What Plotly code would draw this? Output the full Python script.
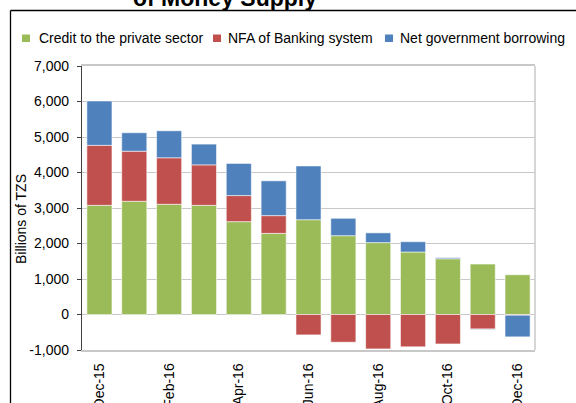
import plotly.graph_objects as go

# ---------------- data ----------------
months = ["Dec-15", "Jan-16", "Feb-16", "Mar-16", "Apr-16", "May-16", "Jun-16",
          "Jul-16", "Aug-16", "Sep-16", "Oct-16", "Nov-16", "Dec-16"]
credit_private = [3075, 3190, 3105, 3075, 2615, 2285, 2670, 2220, 2025, 1760, 1570, 1420, 1120]
nfa_banking = [1690, 1410, 1310, 1140, 735, 500, -575, -780, -970, -910, -830, -410, -20]
net_gov_borrowing = [1250, 520, 760, 585, 905, 980, 1515, 490, 275, 290, 30, -15, -610]

series_names = ["Credit to the private sector", "NFA of Banking system", "Net government borrowing"]
x_tick_labels = months[::2]
y_tick_values = [-1000, 0, 1000, 2000, 3000, 4000, 5000, 6000, 7000]
y_tick_labels = ["-1,000", "0", "1,000", "2,000", "3,000", "4,000", "5,000", "6,000", "7,000"]
boundary_ticks = [1.5, 3.5, 5.5, 7.5, 9.5, 11.5]

# ---------------- layout constants (pixels) ----------------
W, H = 576, 403
L, R, T, B = 82, 41, 66, 53
PW, PH = W - L - R, H - T - B
FONT = "Liberation Sans, Arial, sans-serif"
colors = ["#9BBB59", "#C0504D", "#4F81BD"]


def px_x(px):
    return (px - L) / PW


def px_y(py):
    return (H - B - py) / PH


fig = go.Figure()
for name, vals, col in zip(series_names, [credit_private, nfa_banking, net_gov_borrowing], colors):
    fig.add_trace(go.Bar(
        x=months, y=vals, name=name, marker_color=col,
        marker_line=dict(color="rgba(255,255,255,0.55)", width=1),
        showlegend=False,
    ))

shapes = []
annotations = []

# custom legend
legend_items = [(22, 36.7), (213, 226), (385, 398)]
for (sq_x, tx_x), name, col in zip(legend_items, series_names, colors):
    shapes.append(dict(type="rect", xref="paper", yref="paper",
                       x0=px_x(sq_x), x1=px_x(sq_x + 8), y0=px_y(42), y1=px_y(34.5),
                       fillcolor=col, line=dict(width=0)))
    annotations.append(dict(text=name, xref="paper", yref="paper", x=px_x(tx_x), y=px_y(38.5),
                            xanchor="left", yanchor="middle", showarrow=False,
                            font=dict(family=FONT, size=14, color="#000000")))

# cut-off title
annotations.append(dict(text="<b>of Money Supply</b>", xref="paper", yref="paper",
                        x=px_x(225), y=px_y(13.5), xanchor="center", yanchor="bottom",
                        showarrow=False, font=dict(family=FONT, size=23, color="#000000")))

# y-axis title
annotations.append(dict(text="Billions of TZS", xref="paper", yref="paper",
                        x=px_x(21), y=px_y(219), xanchor="center", yanchor="middle",
                        textangle=-90, showarrow=False,
                        font=dict(family=FONT, size=14, color="#000000")))

# outer chart frame (top and left)
shapes.append(dict(type="line", xref="paper", yref="paper", x0=px_x(10.5), x1=px_x(590),
                   y0=px_y(10.5), y1=px_y(10.5), line=dict(color="#000000", width=1.3)))
shapes.append(dict(type="line", xref="paper", yref="paper", x0=px_x(10.5), x1=px_x(10.5),
                   y0=px_y(10.5), y1=px_y(420), line=dict(color="#000000", width=1.3)))
# right plot border
shapes.append(dict(type="line", xref="paper", yref="paper", x0=1, x1=1, y0=0, y1=1,
                   line=dict(color="#C8C8C8", width=1.5)))

fig.update_layout(
    width=W, height=H,
    margin=dict(l=L, r=R, t=T, b=B, autoexpand=False),
    paper_bgcolor="white", plot_bgcolor="white",
    barmode="relative", bargap=0.28,
    font=dict(family=FONT, size=14, color="#000000"),
    shapes=shapes, annotations=annotations,
    xaxis=dict(
        type="category", range=[-0.5, 12.5],
        tickmode="array", tickvals=x_tick_labels, ticktext=x_tick_labels,
        tickangle=-90, ticks="outside", ticklen=6, tickcolor="rgba(0,0,0,0)",
        showline=True, linecolor="#C8C8C8", linewidth=1.5, mirror=True,
        showgrid=False, zeroline=False,
        tickfont=dict(family=FONT, size=14, color="#000000"),
    ),
    xaxis2=dict(
        overlaying="x", anchor="free", position=1 / 8, range=[-0.5, 12.5],
        tickmode="array", tickvals=boundary_ticks, showticklabels=False,
        ticks="outside", ticklen=4, tickcolor="#404040", tickwidth=1,
        showline=True, linecolor="#404040", linewidth=1.5,
        showgrid=False, zeroline=False, layer="above traces",
    ),
    yaxis=dict(
        range=[-1000, 7000], tickmode="array", tickvals=y_tick_values, ticktext=y_tick_labels,
        ticks="outside", ticklen=4, tickcolor="#404040",
        showline=True, linecolor="#404040", linewidth=1.3,
        showgrid=True, gridcolor="#C8C8C8", gridwidth=1.2, zeroline=False,
        ticklabelstandoff=5,
        tickfont=dict(family=FONT, size=14, color="#000000"),
    ),
)

fig.write_html(
    "out.html",
    config={"displayModeBar": False},
    post_script="document.body.style.margin='0';document.body.style.overflow='hidden';",
)
